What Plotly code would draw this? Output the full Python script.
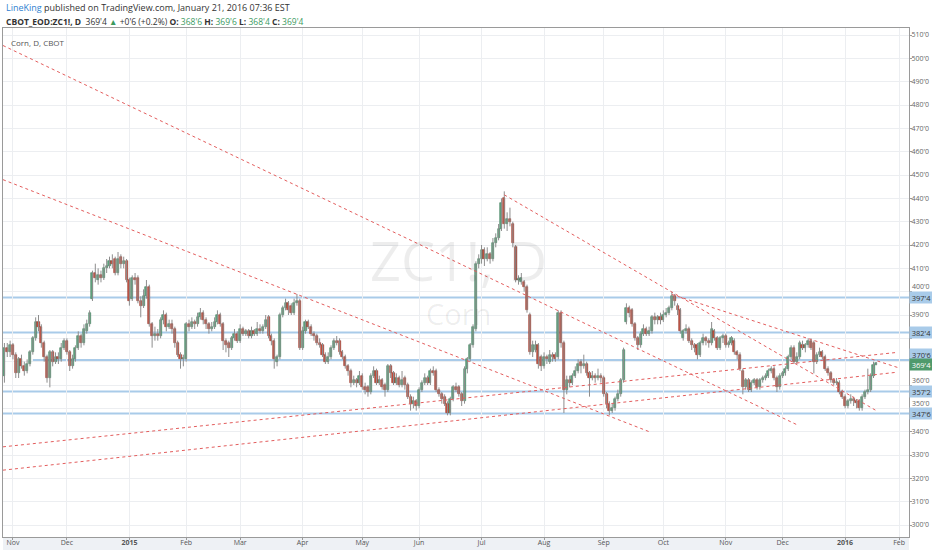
import plotly.graph_objects as go
import pandas as pd

# ---------------- data (ZC1!, daily) ----------------
opens = [364,376,374,377,373,365,371,368,366,369,374,380,387,385,378,372,363,374,370,372,
         371,376,379,374,368,371,376,381,378,383,386,397,408,405,407,406,410,411,413,414,
         408,415,412,413,405,397,406,406,396,394,398,402,386,381,382,381,388,390,385,386,
         384,378,373,371,371,386,385,387,386,389,391,388,386,384,385,387,390,386,379,378,
         376,380,382,379,384,382,383,381,383,382,384,383,385,389,381,379,370,372,390,393,
         395,394,391,395,396,376,383,387,385,382,381,378,377,373,370,372,376,379,379,374,
         372,368,366,361,362,361,364,359,359,357,364,366,361,362,360,358,368,365,361,363,
         360,363,360,355,352,353,351,358,361,363,361,366,366,358,356,355,352,348,354,359,
         359,356,353,367,371,377,384,412,414,418,414,416,414,421,423,427,440,429,431,429,
         419,405,404,404,402,390,374,375,377,372,368,372,370,373,373,372,391,378,358,362,
         361,364,366,370,368,369,365,363,364,363,364,363,356,352,349,350,354,356,362,387,
         393,392,386,380,377,382,384,382,383,389,388,389,388,390,391,393,398,394,392,380,
         383,384,379,377,377,373,378,380,379,378,383,380,376,380,381,377,378,379,374,373,
         366,359,362,358,361,362,359,362,363,364,366,367,363,359,364,365,367,372,376,370,
         372,377,376,377,379,378,370,373,374,372,367,365,362,361,361,357,355,351,353,354,
         353,353,350,355,357,358,364,368.75]
highs = [378,378,379,378,374,372,373,370,371,375,381,389,390,386,379,373,375,375,374,374,
         378,380,380,375,373,377,383,382,386,388,392,409,412,410,409,412,414,415,416,415,
         417,416,415,414,406,407,408,407,398,401,405,403,387,385,384,389,392,391,388,388,
         385,379,374,373,387,388,389,388,391,393,392,389,387,387,389,392,391,387,380,379,
         381,384,383,386,385,384,384,385,384,387,386,386,390,390,382,380,373,391,394,397,
         396,395,397,399,397,385,388,388,386,383,382,380,378,374,374,377,380,381,380,375,
         373,369,367,364,363,366,365,361,360,365,368,367,364,363,361,369,369,366,365,364,
         366,364,361,356,355,354,359,362,365,364,367,368,367,359,357,356,353,355,360,361,
         360,357,368,372,378,386,413,416,420,419,419,417,423,425,429,440,443,434,436,430,
         420,407,408,405,403,391,379,379,378,373,374,373,375,374,374,392,392,379,364,364,
         365,368,371,371,373,370,366,366,365,367,365,364,357,353,352,355,358,363,376,395,
         394,393,387,381,383,386,385,385,390,391,390,391,392,393,394,400,399,395,393,384,
         386,385,380,378,378,379,382,381,380,387,384,381,381,382,382,379,381,380,375,374,
         367,363,363,362,363,363,363,364,365,367,368,368,364,365,366,368,373,377,377,374,
         379,379,378,380,380,379,374,376,375,373,368,366,363,363,362,358,356,354,356,355,
         354,354,356,358,367,365,370,369.75]
lows = [361,372,372,371,363,363,367,364,365,368,373,379,383,376,370,361,359,368,369,369,
        370,375,373,366,367,370,375,376,377,382,385,396,404,403,404,405,408,410,410,407,
        407,410,410,404,394,396,403,395,389,393,397,385,376,379,379,380,386,383,384,382,
        376,372,367,368,370,383,384,384,385,388,386,384,382,383,384,386,385,375,374,372,
        375,379,378,378,381,381,380,380,381,381,382,382,384,380,377,367,368,371,389,392,
        390,390,390,394,375,375,382,384,381,379,377,376,372,369,369,371,375,377,373,371,
        367,364,359,360,359,360,358,356,355,356,363,360,360,358,355,357,363,360,360,359,
        359,358,354,349,350,349,350,357,360,360,360,364,357,355,352,351,347,347,353,357,
        355,351,352,365,370,376,383,410,412,411,413,412,413,419,422,426,427,426,428,419,
        404,403,403,400,391,373,372,374,367,366,367,369,369,370,370,371,376,348,356,359,
        360,363,365,365,367,364,355,362,361,362,361,355,350,347,348,349,353,355,361,386,
        389,385,379,375,376,381,381,381,382,386,386,386,387,389,390,392,394,390,382,379,
        382,378,375,374,371,372,377,377,376,377,379,375,375,378,376,376,377,373,371,366,
        356,358,357,357,360,358,358,361,362,363,365,362,357,358,363,364,366,371,369,369,
        371,375,374,376,375,365,369,372,371,366,364,361,360,360,356,354,350,350,352,351,
        350,349,349,354,356,357,363,368.5]
closes = [376,374,377,373,365,371,368,366,369,374,380,387,385,378,372,363,374,370,372,371,
          376,379,374,368,371,376,381,378,384,386,391,408,406,407,406,410,411,413,412,408,
          414,412,413,405,396,406,405,396,394,398,402,386,381,382,381,388,390,385,386,384,
          378,373,371,371.5,386,385,387,386,389,391,388,386,384,385,387,390,386,379,377,376,
          380,382,379,384,382,383,381,383,382,384,383,385,388,381,379,371,372,390,393,395,
          392,391,395,396,376,383,387,385,382,381,378,377,373,370,372,376,379,378,374,372,
          368,366,361,362,361,364,359,358,357,364,366,361,362,359,358,368,365,361,363,360,
          362,360,355,352,353,351,358,361,363,361,366,365,358,356,354,352,348,354,359,358,
          356,353,367,371,377,385,412,414,418,414,416,414,421,423,427,438,429,431,430,421,
          405,405.5,406,402,392,374,377,377,369,368,372,371,373,372,371,391,378,358,362,361,
          364,366,369,368,369,365,363,364,363,364,363,356,352,349,350,354,356,362,375,393,
          391,386,380,377,382,384,382,383,389,388,389,388,390,391,393,398,396,392,383,383,
          384,379,377,376,373,378,380,379,378,384,380,376,380,381,377,378,380,374,373,367,
          359,362,358,361,362,359,362,363,364,366,367,363,359,364,365,367,372,376,370,372,
          378,376,377,379,376,370,373,374,372,367,365,362,361,361.5,357,355,351,353,354,353,
          352.5,350,355,357,358,364,368.75,369.5]

holidays = ["2014-11-27", "2014-12-25", "2015-01-01", "2015-01-19", "2015-02-16",
            "2015-04-03", "2015-05-25", "2015-07-03", "2015-09-07", "2015-11-26",
            "2015-12-25", "2016-01-01", "2016-01-18", "2016-02-15"]
first_day, last_axis_day = "2014-10-29", "2016-02-12"

# horizontal levels (price, first bar index where the line starts)
levels = [397.5, 382.5, 370.75, 357.25, 347.75]
level_start = [-0.5, -0.5, 10, -0.5, -0.5]

# price-scale ticks: hidden under level boxes, or nudged up clear of them
y_ticks = list(range(300, 520, 10))
y_hidden = [380, 370]
y_nudged = [400, 360, 350]

# trend lines: (bar0, price0, bar1, price1)
trend_lines = [
    (-0.5, 505.5, 279.0, 343.0),
    (-0.5, 448.0, 227.0, 340.0),
    (176.0, 441.5, 307.0, 349.0),
    (235.0, 398.8, 314.5, 367.5),
    (-0.5, 333.5, 314.5, 374.0),
    (-0.5, 323.5, 314.5, 365.5),
]

last_o, last_h, last_l, last_c = 368.75, 369.75, 368.5, 369.5

# ---------------- helpers ----------------
def fmt(p):
    w = int(p)
    e = int(round((p - w) * 8))
    return f"{w}'{e}"

n = len(closes)
assert len(opens) == n == len(highs) == len(lows)
days = [d for d in pd.bdate_range(first_day, last_axis_day)
        if d.strftime("%Y-%m-%d") not in holidays]
idx = list(range(n))

tickvals, ticktext = [], []
for k in range(1, len(days)):
    if days[k].month != days[k - 1].month:
        tickvals.append(k)
        ticktext.append(f"<b>{days[k].year}</b>" if days[k].month == 1 else days[k].strftime("%b"))

UP, UP_L = "#5fa57f", "#3f7d5c"
DN, DN_L = "#c9503f", "#8f3327"

fig = go.Figure()

# wicks
wx, wy = [], []
for i in idx:
    wx += [i, i, None]
    wy += [lows[i], highs[i], None]
fig.add_trace(go.Scatter(x=wx, y=wy, mode="lines", line=dict(color="#8d8d8d", width=1),
                         hoverinfo="skip", showlegend=False))

# bodies
for up, col, lcol in ((True, UP, UP_L), (False, DN, DN_L)):
    sel = [i for i in idx if (closes[i] >= opens[i]) == up]
    fig.add_trace(go.Bar(
        x=sel,
        base=[min(opens[i], closes[i]) for i in sel],
        y=[max(abs(closes[i] - opens[i]), 0.35) for i in sel],
        width=0.72, marker=dict(color=col, line=dict(color=lcol, width=0.6)),
        showlegend=False, hoverinfo="skip"))

shapes = []
for lv, st in zip(levels, level_start):
    shapes.append(dict(type="line", xref="x", yref="y", x0=st, x1=318.5, y0=lv, y1=lv,
                       line=dict(color="#a9cbe9", width=2), layer="below"))
for (a0, p0, a1, p1) in trend_lines:
    shapes.append(dict(type="line", xref="x", yref="y", x0=a0, x1=a1, y0=p0, y1=p1,
                       line=dict(color="#e35d5d", width=1, dash="dot")))
# bottom time-axis strip
shapes.append(dict(type="rect", xref="paper", yref="paper", x0=0, x1=1, y0=-0.026, y1=0,
                   fillcolor="#eef1f5", line=dict(width=0), layer="below"))

ann = []
# watermark
ann.append(dict(text="ZC1!, D", xref="paper", yref="paper", x=0.503, y=0.545,
                showarrow=False, font=dict(size=54, color="rgba(0,0,0,0.07)", family="Open Sans")))
ann.append(dict(text="Corn", xref="paper", yref="paper", x=0.503, y=0.44,
                showarrow=False, font=dict(size=29, color="rgba(0,0,0,0.07)", family="Open Sans")))
# legend text in pane
ann.append(dict(text="Corn, D, CBOT", xref="paper", yref="paper", x=0.007, y=0.971,
                xanchor="left", yanchor="middle", showarrow=False, font=dict(size=8, color="#555")))
# header
G = "#3c9a5f"
ann.append(dict(text="<span style='color:#2f7fd0'>LineKing</span> published on TradingView.com, January 21, 2016 07:36 EST",
                xref="paper", yref="paper", x=0.001, y=1.04, xanchor="left", yanchor="middle",
                showarrow=False, font=dict(size=9, color="#333")))
hdr = (f"<b>CBOT_EOD:ZC1!, D</b>  {fmt(last_c)} <span style='color:{G}'>▲</span> "
       f"+{fmt(last_c - opens[-1])} (+0.2%) "
       f"<b>O:</b> <span style='color:{G}'>{fmt(last_o)}</span> "
       f"<b>H:</b> <span style='color:{G}'>{fmt(last_h)}</span> "
       f"<b>L:</b> <span style='color:{G}'>{fmt(last_l)}</span> "
       f"<b>C:</b> <span style='color:{G}'>{fmt(last_c)}</span>")
ann.append(dict(text=hdr, xref="paper", yref="paper", x=0.001, y=1.012, xanchor="left",
                yanchor="middle", showarrow=False, font=dict(size=8.5, color="#333")))
# nudged price-scale labels
for v in y_nudged:
    ann.append(dict(text=fmt(v), xref="paper", yref="y", x=1.0, y=v, xanchor="left",
                    yanchor="middle", xshift=1, yshift=5, showarrow=False,
                    font=dict(size=7, color="#666")))
# price boxes on right axis
for lv in levels:
    ann.append(dict(text=fmt(lv), xref="paper", yref="y", x=1.0, y=lv, xanchor="left",
                    yanchor="middle", showarrow=False, bgcolor="#a9cbe9", width=21, height=9,
                    font=dict(size=7.5, color="#333"), yshift=5 if lv == 370.75 else 0))
ann.append(dict(text=fmt(last_c), xref="paper", yref="y", x=1.0, y=last_c, xanchor="left",
                yanchor="middle", showarrow=False, bgcolor="#4f9a6c", width=21, height=9,
                font=dict(size=7.5, color="white"), yshift=-2))

fig.update_layout(
    width=932, height=550, margin=dict(l=3, r=23, t=28, b=13),
    paper_bgcolor="white", plot_bgcolor="white", barmode="overlay", bargap=0,
    font=dict(family="Open Sans, Arial", size=8, color="#555"),
    shapes=shapes, annotations=ann, showlegend=False,
    xaxis=dict(range=[-0.5, 318.5], tickvals=tickvals, ticktext=ticktext,
               showgrid=True, gridcolor="#eceef1", gridwidth=1, zeroline=False,
               showline=True, linecolor="#9a9a9a", linewidth=1, mirror=True,
               ticks="outside", ticklen=2, tickcolor="#9a9a9a", ticklabelstandoff=-3,
               tickfont=dict(size=7, color="#555"), fixedrange=True),
    yaxis=dict(range=[294.86, 513.0], side="right", tickvals=y_ticks,
               ticktext=["" if (v in y_hidden or v in y_nudged) else fmt(v) for v in y_ticks],
               showgrid=True, gridcolor="#eceef1", gridwidth=1, zeroline=False,
               showline=True, linecolor="#9a9a9a", linewidth=1, mirror=True,
               ticks="outside", ticklen=2, tickcolor="#9a9a9a", ticklabelstandoff=-2,
               tickfont=dict(size=7, color="#666"), fixedrange=True),
)

fig.write_html("out.html", config={"displayModeBar": False},
               post_script="document.body.style.margin='0';document.body.style.overflow='hidden';")
